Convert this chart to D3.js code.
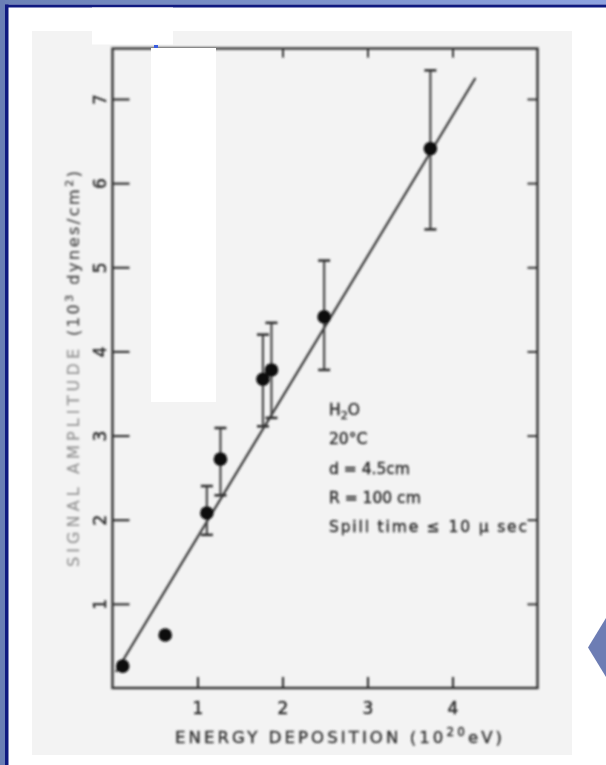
<!DOCTYPE html>
<html>
<head>
<meta charset="utf-8">
<script src="https://cdn.jsdelivr.net/npm/d3@7"></script>
<style>
  html, body { margin: 0; padding: 0; background: #ffffff; }
  svg { display: block; }
</style>
</head>
<body>
<svg id="slide" width="606" height="765"></svg>
<script>
// Acoustic signal amplitude vs. energy deposited in water
const energy    = [0.12, 0.62, 1.11, 1.27, 1.77, 1.87, 2.49, 3.74];   // 10^20 eV
const amplitude = [0.26, 0.63, 2.08, 2.72, 3.67, 3.78, 4.41, 6.41];   // 10^3 dynes/cm^2
const errLow    = [null, null, 1.82, 2.29, 3.11, 3.21, 3.78, 5.45];
const errHigh   = [null, null, 2.40, 3.09, 4.20, 4.34, 5.08, 7.34];

// straight-line fit, end points
const fitEnergy    = [0.04, 4.27];
const fitAmplitude = [0.19, 7.25];

const xTicks = [1, 2, 3, 4];
const yTicks = [1, 2, 3, 4, 5, 6, 7];

const conditions = ["H2O", "20°C", "d = 4.5cm", "R = 100 cm", "Spill time ≤ 10 μ sec"];

const svg = d3.select("#slide");
const ink = "#333333";
const font = "DejaVu Sans, Verdana, sans-serif";

// ---- slide frame ----
const defs = svg.append("defs");
const grad = defs.append("linearGradient").attr("id", "topband")
  .attr("x1", 0).attr("x2", 1).attr("y1", 0).attr("y2", 0);
grad.append("stop").attr("offset", 0).attr("stop-color", "#6c82b6");
grad.append("stop").attr("offset", 1).attr("stop-color", "#8ea3e0");

const soft = defs.append("filter").attr("id", "soft")
  .attr("x", -0.05).attr("y", -0.05).attr("width", 1.1).attr("height", 1.1);
soft.append("feGaussianBlur").attr("stdDeviation", 0.8);

svg.append("rect").attr("x", 0).attr("y", 0).attr("width", 606).attr("height", 765).attr("fill", "#ffffff");
svg.append("rect").attr("x", 0).attr("y", 0).attr("width", 606).attr("height", 4.5).attr("fill", "url(#topband)");
svg.append("rect").attr("x", 0).attr("y", 0).attr("width", 5).attr("height", 765).attr("fill", "#6a7fb5");
svg.append("rect").attr("x", 5).attr("y", 4.5).attr("width", 601).attr("height", 3).attr("fill", "#0f1a80");
svg.append("rect").attr("x", 5).attr("y", 4.5).attr("width", 3.5).attr("height", 761).attr("fill", "#0f1a80");

// navigation arrow on the right edge
svg.append("path")
  .attr("d", "M588,647.5 L606,618 L612,647.5 L606,677 Z")
  .attr("fill", "#6d7db4");

// ---- scanned figure ----
svg.append("rect").attr("x", 32).attr("y", 31).attr("width", 540).attr("height", 724).attr("fill", "#f3f3f3");

const fig = svg.append("g").attr("filter", "url(#soft)");

const x = d3.scaleLinear().domain([0, 5]).range([112.5, 537.5]);
const y = d3.scaleLinear().domain([0, 7.6]).range([688, 48.5]);

// frame
fig.append("rect")
  .attr("x", x(0)).attr("y", y(7.6))
  .attr("width", x(5) - x(0)).attr("height", y(0) - y(7.6))
  .attr("fill", "none").attr("stroke", ink).attr("stroke-width", 2.4);

// bottom axis: inward ticks and labels
const xAxis = d3.axisBottom(x).tickValues(xTicks).tickSizeInner(-11).tickSizeOuter(0).tickPadding(14)
  .tickFormat(d3.format("d"));
const gx = fig.append("g").attr("transform", `translate(0,${y(0)})`).call(xAxis);
gx.select(".domain").remove();
gx.selectAll(".tick line").attr("stroke", ink).attr("stroke-width", 2.2);
gx.selectAll(".tick text").attr("fill", "#2a2a2a").attr("font-size", 17)
  .attr("stroke", "#2a2a2a").attr("stroke-width", 0.45)
  .attr("font-family", font);

// top frame ticks
const xTop = d3.axisTop(x).tickValues(xTicks).tickSizeInner(-9).tickSizeOuter(0).tickFormat("");
const gxt = fig.append("g").attr("transform", `translate(0,${y(7.6)})`).call(xTop);
gxt.select(".domain").remove();
gxt.selectAll(".tick line").attr("stroke", ink).attr("stroke-width", 2);

// left axis: inward ticks and sideways labels
const yAxis = d3.axisLeft(y).tickValues(yTicks).tickSizeInner(-17).tickSizeOuter(0).tickFormat("");
const gy = fig.append("g").attr("transform", `translate(${x(0)},0)`).call(yAxis);
gy.select(".domain").remove();
gy.selectAll(".tick line").attr("stroke", ink).attr("stroke-width", 2.2);
gy.selectAll(".tick").append("text")
  .attr("transform", "translate(-13,0) rotate(-90)")
  .attr("text-anchor", "middle").attr("dy", "0.36em")
  .attr("fill", "#2a2a2a").attr("font-size", 17)
  .attr("stroke", "#2a2a2a").attr("stroke-width", 0.45)
  .attr("font-family", font)
  .text(d => d);

// right frame ticks
const yRight = d3.axisRight(y).tickValues(yTicks).tickSizeInner(-10).tickSizeOuter(0).tickFormat("");
const gyr = fig.append("g").attr("transform", `translate(${x(5)},0)`).call(yRight);
gyr.select(".domain").remove();
gyr.selectAll(".tick line").attr("stroke", ink).attr("stroke-width", 2);

// fitted line
const line = d3.line().x(d => x(d[0])).y(d => y(d[1]));
fig.append("path")
  .datum(d3.zip(fitEnergy, fitAmplitude))
  .attr("d", line)
  .attr("fill", "none").attr("stroke", ink).attr("stroke-width", 2.2);

// error bars
const pts = energy.map((e, i) => ({ e, a: amplitude[i], lo: errLow[i], hi: errHigh[i] }));
const bars = fig.append("g").selectAll("g").data(pts.filter(p => p.lo !== null)).join("g");
bars.append("line")
  .attr("x1", p => x(p.e)).attr("x2", p => x(p.e))
  .attr("y1", p => y(p.lo)).attr("y2", p => y(p.hi))
  .attr("stroke", "#474747").attr("stroke-width", 2.2);
bars.selectAll("line.cap").data(p => [[p.e, p.lo], [p.e, p.hi]]).join("line")
  .attr("class", "cap")
  .attr("x1", d => x(d[0]) - 6).attr("x2", d => x(d[0]) + 6)
  .attr("y1", d => y(d[1])).attr("y2", d => y(d[1]))
  .attr("stroke", "#333333").attr("stroke-width", 2.6);

// measured points
fig.append("g").selectAll("circle").data(pts).join("circle")
  .attr("cx", p => x(p.e)).attr("cy", p => y(p.a)).attr("r", 6.8)
  .attr("fill", "#0d0d0d");

// axis titles
const xt = fig.append("text")
  .attr("x", 175).attr("y", 743)
  .attr("font-family", font).attr("font-size", 16.5).attr("fill", "#333333")
  .attr("stroke", "#333333").attr("stroke-width", 0.4)
  .attr("textLength", 327).attr("lengthAdjust", "spacing");
xt.append("tspan").text("ENERGY DEPOSITION (10");
xt.append("tspan").attr("dy", -7).attr("font-size", 12).text("20");
xt.append("tspan").attr("dy", 7).text("eV)");

const ytg = fig.append("g").attr("transform", "translate(79,567) rotate(-90)")
  .attr("font-family", font).attr("font-size", 16);
ytg.append("text").attr("x", 0).attr("y", 0)
  .attr("fill", "#9a9a9a").attr("stroke", "#9a9a9a").attr("stroke-width", 0.3)
  .attr("textLength", 218).attr("lengthAdjust", "spacing")
  .text("SIGNAL AMPLITUDE");
const yt2 = ytg.append("text").attr("x", 231).attr("y", 0)
  .attr("fill", "#555555").attr("stroke", "#555555").attr("stroke-width", 0.35)
  .attr("textLength", 165).attr("lengthAdjust", "spacing");
yt2.append("tspan").text("(10");
yt2.append("tspan").attr("dy", -6).attr("font-size", 11).text("3");
yt2.append("tspan").attr("dy", 6).text(" dynes/cm");
yt2.append("tspan").attr("dy", -6).attr("font-size", 11).text("2");
yt2.append("tspan").attr("dy", 6).text(")");

// experimental conditions
const notes = fig.append("g").attr("font-family", font).attr("font-size", 15.5)
  .attr("fill", "#2b2b2b").attr("stroke", "#2b2b2b").attr("stroke-width", 0.4);
conditions.forEach((c, i) => {
  const t = notes.append("text").attr("x", 329).attr("y", 415 + i * 29.3);
  if (c === "H2O") {
    t.append("tspan").text("H");
    t.append("tspan").attr("dy", 4).attr("font-size", 11).text("2");
    t.append("tspan").attr("dy", -4).text("O");
  } else if (i === conditions.length - 1) {
    t.attr("textLength", 198).attr("lengthAdjust", "spacing").text(c);
  } else {
    t.text(c);
  }
});

// blanked-out patches over the scan
svg.append("rect").attr("x", 92).attr("y", 7.5).attr("width", 81).attr("height", 37).attr("fill", "#ffffff");
svg.append("rect").attr("x", 151).attr("y", 48).attr("width", 65).attr("height", 354).attr("fill", "#ffffff");
svg.append("rect").attr("x", 154).attr("y", 45).attr("width", 4).attr("height", 3).attr("fill", "#3a5de0");
</script>
</body>
</html>
